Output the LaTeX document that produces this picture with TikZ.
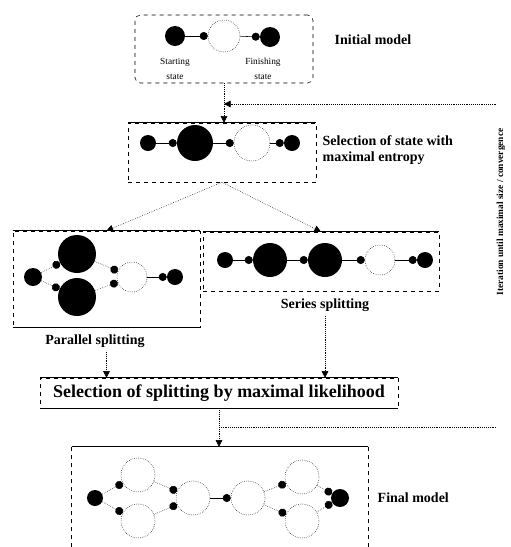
\documentclass[tikz,border=0pt]{standalone}
\usepackage{fontspec}
\setmainfont{Liberation Serif}
\usetikzlibrary{arrows.meta,fit,positioning}

\tikzset{
  fstate/.style={circle,fill=black,inner sep=0pt,minimum size=#1},
  ostate/.style={circle,draw,densely dotted,inner sep=0pt,minimum size=#1},
  link/.style={-{Circle[length=6pt]}},
  dlink/.style={densely dotted,-{Circle[length=6pt]}},
  flow/.style={densely dotted,-{Triangle[length=5pt,width=5pt]}},
  stagebox/.style={draw,dashed,inner sep=0pt},
  lbl/.style={font=\bfseries\fontsize{10.5}{12}\selectfont},
  tiny/.style={font=\fontsize{7}{11}\selectfont,align=center}
}

\begin{document}
\begin{tikzpicture}[x=0.75pt,y=-0.75pt]
\useasboundingbox (0,0) rectangle (511,547);

\node[stagebox,rounded corners=4pt,fit={(135,15) (313,83)}] (init) {};
\node[fstate=15pt] (i1) at (175,36) {};
\node[ostate=24pt] (i2) at (224,36) {};
\node[fstate=15pt] (i3) at (270,37) {};
\draw[link] (i1) -- (i2);
\draw[link] (i2) -- (i3);
\node[tiny] (tstart) at (175,69) {Starting\\state};
\node[tiny] (tfinish) at (263,69) {Finishing\\state};
\node[lbl,anchor=west] (tinit) at (330,40) {Initial model};

\node[stagebox,fit={(128,123) (316,182)}] (sel1) {};
\draw (sel1.north west) -- (sel1.north east);
\node[fstate=12pt] (a1) at (148,143) {};
\node[fstate=27pt] (a2) at (195,143) {};
\node[ostate=27pt] (a3) at (252,143) {};
\node[fstate=12pt] (a4) at (292,143) {};
\draw[link] (a1) -- (a2);
\draw[link] (a2) -- (a3);
\draw[link] (a3) -- (a4);
\node[lbl,anchor=west,align=left] (tsel) at (318,150) {Selection of state with\\maximal entropy};

\node[stagebox,fit={(13,231) (200,327)}] (par) {};
\draw (par.north west) -- (par.north east);
\draw (par.south west) -- (par.south east);
\node[fstate=13.5pt] (p1) at (33,277) {};
\node[fstate=28.5pt] (p2) at (77,254) {};
\node[fstate=28.5pt] (p3) at (77,297) {};
\node[ostate=22.5pt] (p4) at (132,277) {};
\node[fstate=12pt] (p5) at (175,277) {};
\draw[dlink] (p1) -- (p2);
\draw[dlink] (p1) -- (p3);
\draw[dlink] (p2) -- (p4);
\draw[dlink] (p3) -- (p4);
\draw[link] (p4) -- (p5);
\node[lbl] (tpar) at (95,341) {Parallel splitting};

\node[stagebox,fit={(203,232) (439,291)}] (ser) {};
\draw (ser.north west) -- (ser.north east);
\node[fstate=12pt] (s1) at (225,260) {};
\node[fstate=25.5pt] (s2) at (270,260) {};
\node[fstate=25.5pt] (s3) at (325,260) {};
\node[ostate=22.5pt] (s4) at (380,260) {};
\node[fstate=12pt] (s5) at (425,260) {};
\draw[link] (s1) -- (s2);
\draw[link] (s2) -- (s3);
\draw[link] (s3) -- (s4);
\draw[link] (s4) -- (s5);
\node[lbl] (tser) at (325,305) {Series splitting};

\node[stagebox,fit={(40,378) (398,408)}] (pick) {};
\draw (pick.north west) -- (pick.north east);
\draw (pick.south west) -- (pick.south east);
\node[font=\bfseries\fontsize{13.5}{15}\selectfont] (tpick) at (pick.center) {Selection of splitting by maximal likelihood};

\node[inner sep=0pt,fit={(72,447) (368,547)}] (fin) {};
\draw[dashed] (fin.south west) -- (fin.north west);
\draw (fin.north west) -- (fin.north east);
\draw[dashed] (fin.north east) -- (fin.south east);
\node[fstate=12pt] (m1) at (95,498) {};
\node[ostate=25.5pt] (m2) at (138,475) {};
\node[ostate=25.5pt] (m3) at (138,521) {};
\node[ostate=25.5pt] (m4) at (193,498) {};
\node[ostate=25.5pt] (m5) at (248,498) {};
\node[ostate=25.5pt] (m6) at (302,477) {};
\node[ostate=25.5pt] (m7) at (302,521) {};
\node[fstate=13.5pt] (m8) at (340,498) {};
\draw[dlink] (m1) -- (m2);
\draw[dlink] (m1) -- (m3);
\draw[dlink] (m2) -- (m4);
\draw[dlink] (m3) -- (m4);
\draw[link] (m4) -- (m5);
\draw[dlink] (m5) -- (m6);
\draw[dlink] (m5) -- (m7);
\draw[dlink] (m6) -- (m8);
\draw[dlink] (m7) -- (m8);
\node[lbl,anchor=west] (tfin) at (373,498) {Final model};

\draw[flow] (init.south) -- (init.south |- sel1.north);
\coordinate (join) at (224,104);
\coordinate (back) at (496,104);
\draw[flow] (back) -- (join);
\draw[flow] (sel1.south) -- (par.north);
\draw[flow] (sel1.south) -- (ser.north);
\draw[flow] (tpar.south -| par.north) -- (par.north |- pick.north);
\draw[flow] (tser.south) -- (tser.south |- pick.north);
\draw[flow] (pick.south) -- (pick.south |- fin.north);
\coordinate (fork) at (219,427);
\coordinate (exit) at (496,427);
\draw[densely dotted] (fork) -- (exit);
\node[rotate=90,font=\bfseries\fontsize{7}{8}\selectfont] (tloop) at (501,212) {Iteration until maximal size / convergence};
\end{tikzpicture}
\end{document}
